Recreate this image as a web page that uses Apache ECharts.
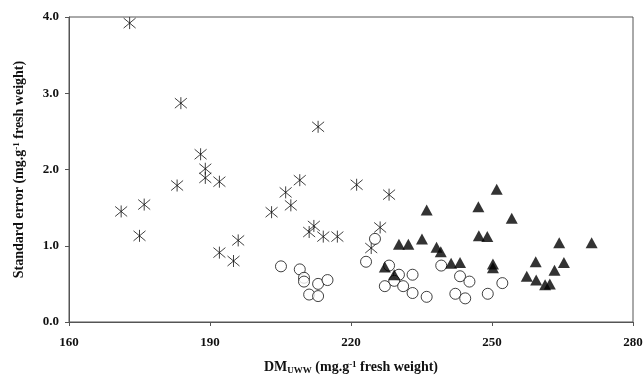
<!DOCTYPE html>
<html>
<head>
<meta charset="utf-8">
<script src="https://cdn.jsdelivr.net/npm/echarts@6/dist/echarts.min.js"></script>
<style>
  html, body { margin: 0; padding: 0; background: #fff; }
  #chart { width: 644px; height: 377px; }
</style>
</head>
<body>
<div id="chart"></div>
<script>
// values: [DM_UWW, standard error]
var starPoints = [
  [172.9, 3.92], [183.8, 2.87], [188.0, 2.20], [189.0, 2.01], [189.0, 1.89],
  [183.0, 1.79], [192.0, 1.84], [171.1, 1.45], [176.0, 1.54], [175.0, 1.13],
  [203.1, 1.44], [192.0, 0.91], [196.0, 1.07], [195.0, 0.80], [209.1, 1.86],
  [206.1, 1.70], [207.2, 1.53], [221.2, 1.80], [228.1, 1.67], [212.1, 1.26],
  [211.1, 1.18], [214.1, 1.12], [217.1, 1.12], [226.2, 1.24], [224.3, 0.97],
  [213.0, 2.56]
];
var circlePoints = [
  [205.1, 0.73], [209.1, 0.69], [210.0, 0.58], [210.0, 0.53], [213.0, 0.50],
  [215.0, 0.55], [211.1, 0.36], [213.0, 0.34], [225.1, 1.09], [223.2, 0.79],
  [228.1, 0.74], [230.2, 0.62], [233.1, 0.62], [227.2, 0.47], [229.2, 0.54],
  [231.1, 0.47], [233.1, 0.38], [236.1, 0.33], [239.2, 0.74], [243.2, 0.60],
  [245.2, 0.53], [242.2, 0.37], [244.3, 0.31], [249.1, 0.37], [252.2, 0.51]
];
var trianglePoints = [
  [227.2, 0.72], [229.2, 0.62], [230.2, 1.02], [232.2, 1.02], [235.1, 1.09],
  [236.1, 1.47], [238.2, 0.98], [239.1, 0.92], [241.3, 0.77], [243.2, 0.78],
  [247.1, 1.51], [251.0, 1.74], [254.2, 1.36], [247.2, 1.13], [249.0, 1.12],
  [250.2, 0.76], [250.2, 0.71], [264.3, 1.04], [271.2, 1.04], [259.3, 0.79],
  [265.3, 0.78], [263.3, 0.68], [257.4, 0.60], [259.4, 0.55], [261.3, 0.49],
  [262.3, 0.50]
];
var xTicks = [160, 190, 220, 250, 280];
var yTicks = [0, 1, 2, 3, 4];

var font = 'Liberation Serif';
var axisColor = '#555';

var chart = echarts.init(document.getElementById('chart'));
chart.setOption({
  animation: false,
  grid: {
    left: 69,
    right: 11,
    top: 17,
    bottom: 55,
    outerBoundsMode: 'none',
    show: true,
    borderColor: axisColor,
    borderWidth: 1
  },
  xAxis: {
    type: 'value',
    min: xTicks[0],
    max: xTicks[xTicks.length - 1],
    interval: 30,
    splitLine: { show: false },
    axisLine: { show: true, lineStyle: { color: axisColor } },
    axisTick: { show: true, length: 4, lineStyle: { color: axisColor } },
    axisLabel: {
      margin: 14,
      color: '#111',
      fontFamily: font,
      fontWeight: 'bold',
      fontSize: 13
    },
    name: '{b|DM}{sub|UWW}{b| (mg.g}{sup|-1}{b| fresh weight)}',
    nameLocation: 'middle',
    nameGap: 38,
    nameTextStyle: {
      rich: {
        b: { fontFamily: font, fontWeight: 'bold', fontSize: 14, color: '#111' },
        sub: { fontFamily: font, fontWeight: 'bold', fontSize: 9, color: '#111', verticalAlign: 'bottom', padding: [6, 0, 0, 0] },
        sup: { fontFamily: font, fontWeight: 'bold', fontSize: 9, color: '#111', verticalAlign: 'top', padding: [0, 0, 6, 0] }
      }
    }
  },
  yAxis: {
    type: 'value',
    min: yTicks[0],
    max: yTicks[yTicks.length - 1],
    interval: 1,
    splitLine: { show: false },
    axisLine: { show: true, lineStyle: { color: axisColor } },
    axisTick: { show: true, length: 4, lineStyle: { color: axisColor } },
    axisLabel: {
      margin: 10,
      color: '#111',
      fontFamily: font,
      fontWeight: 'bold',
      fontSize: 13,
      formatter: function (v) { return v.toFixed(1); }
    },
    name: '{b|Standard error (mg.g}{sup|-1}{b| fresh weight)}',
    nameLocation: 'middle',
    nameGap: 42,
    nameTextStyle: {
      rich: {
        b: { fontFamily: font, fontWeight: 'bold', fontSize: 14, color: '#111' },
        sup: { fontFamily: font, fontWeight: 'bold', fontSize: 9, color: '#111', verticalAlign: 'top', padding: [0, 0, 6, 0] }
      }
    }
  },
  series: [{
    name: 'star',
    type: 'scatter',
    data: starPoints,
    symbol: 'path://M0,0L10,10M10,0L0,10M5,-1L5,11',
    symbolSize: 12,
    itemStyle: { color: 'rgba(0,0,0,0)', borderColor: '#111', borderWidth: 1 }
  }, {
    name: 'circle',
    type: 'scatter',
    data: circlePoints,
    symbol: 'circle',
    symbolSize: 11,
    itemStyle: { color: '#fff', borderColor: '#111', borderWidth: 1 }
  }, {
    name: 'triangle',
    type: 'scatter',
    data: trianglePoints,
    symbol: 'triangle',
    symbolSize: [12, 11],
    itemStyle: { color: '#000' }
  }]
});
</script>
</body>
</html>
